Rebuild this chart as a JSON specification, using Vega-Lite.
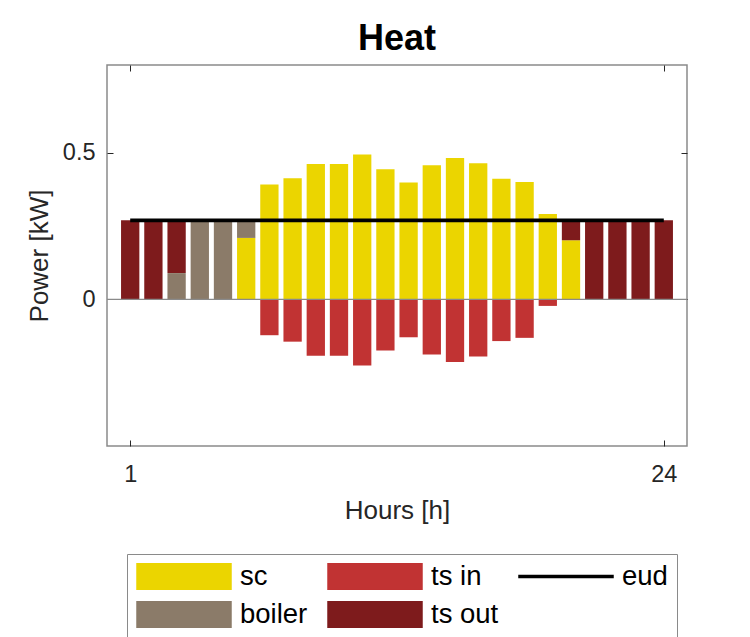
{
  "$schema": "https://vega.github.io/schema/vega-lite/v6.json",
  "width": 580,
  "height": 381,
  "autosize": {"type": "none"},
  "padding": {"left": 107, "top": 65, "right": 63, "bottom": 191},
  "config": {
    "font": "Liberation Sans",
    "view": {"stroke": "#8a8a8a", "strokeWidth": 1.5},
    "axis": {"grid": false, "domain": false, "tickColor": "#262626", "tickWidth": 1, "labelColor": "#262626", "titleColor": "#262626", "titleFontWeight": "normal"}
  },
  "title": {"text": "Heat", "fontSize": 36, "fontWeight": "bold", "color": "#000000", "anchor": "middle", "offset": -21, "baseline": "alphabetic"},
  "datasets": {
    "bars": [
      {"hour": 1, "series": "ts out", "kw": 0.27, "rank": 3},
      {"hour": 2, "series": "ts out", "kw": 0.27, "rank": 3},
      {"hour": 3, "series": "boiler", "kw": 0.09, "rank": 2},
      {"hour": 3, "series": "ts out", "kw": 0.18, "rank": 3},
      {"hour": 4, "series": "boiler", "kw": 0.27, "rank": 2},
      {"hour": 5, "series": "boiler", "kw": 0.27, "rank": 2},
      {"hour": 6, "series": "sc", "kw": 0.21, "rank": 1},
      {"hour": 6, "series": "boiler", "kw": 0.06, "rank": 2},
      {"hour": 7, "series": "sc", "kw": 0.392, "rank": 1},
      {"hour": 7, "series": "ts in", "kw": -0.122, "rank": 1},
      {"hour": 8, "series": "sc", "kw": 0.414, "rank": 1},
      {"hour": 8, "series": "ts in", "kw": -0.144, "rank": 1},
      {"hour": 9, "series": "sc", "kw": 0.462, "rank": 1},
      {"hour": 9, "series": "ts in", "kw": -0.192, "rank": 1},
      {"hour": 10, "series": "sc", "kw": 0.462, "rank": 1},
      {"hour": 10, "series": "ts in", "kw": -0.192, "rank": 1},
      {"hour": 11, "series": "sc", "kw": 0.495, "rank": 1},
      {"hour": 11, "series": "ts in", "kw": -0.225, "rank": 1},
      {"hour": 12, "series": "sc", "kw": 0.444, "rank": 1},
      {"hour": 12, "series": "ts in", "kw": -0.174, "rank": 1},
      {"hour": 13, "series": "sc", "kw": 0.399, "rank": 1},
      {"hour": 13, "series": "ts in", "kw": -0.129, "rank": 1},
      {"hour": 14, "series": "sc", "kw": 0.458, "rank": 1},
      {"hour": 14, "series": "ts in", "kw": -0.188, "rank": 1},
      {"hour": 15, "series": "sc", "kw": 0.483, "rank": 1},
      {"hour": 15, "series": "ts in", "kw": -0.213, "rank": 1},
      {"hour": 16, "series": "sc", "kw": 0.465, "rank": 1},
      {"hour": 16, "series": "ts in", "kw": -0.195, "rank": 1},
      {"hour": 17, "series": "sc", "kw": 0.412, "rank": 1},
      {"hour": 17, "series": "ts in", "kw": -0.142, "rank": 1},
      {"hour": 18, "series": "sc", "kw": 0.401, "rank": 1},
      {"hour": 18, "series": "ts in", "kw": -0.131, "rank": 1},
      {"hour": 19, "series": "sc", "kw": 0.292, "rank": 1},
      {"hour": 19, "series": "ts in", "kw": -0.022, "rank": 1},
      {"hour": 20, "series": "sc", "kw": 0.202, "rank": 1},
      {"hour": 20, "series": "ts out", "kw": 0.068, "rank": 3},
      {"hour": 21, "series": "ts out", "kw": 0.27, "rank": 3},
      {"hour": 22, "series": "ts out", "kw": 0.27, "rank": 3},
      {"hour": 23, "series": "ts out", "kw": 0.27, "rank": 3},
      {"hour": 24, "series": "ts out", "kw": 0.27, "rank": 3}
    ],
    "eud": [
      {"hour": 1, "series": "eud", "kw": 0.27},
      {"hour": 2, "series": "eud", "kw": 0.27},
      {"hour": 3, "series": "eud", "kw": 0.27},
      {"hour": 4, "series": "eud", "kw": 0.27},
      {"hour": 5, "series": "eud", "kw": 0.27},
      {"hour": 6, "series": "eud", "kw": 0.27},
      {"hour": 7, "series": "eud", "kw": 0.27},
      {"hour": 8, "series": "eud", "kw": 0.27},
      {"hour": 9, "series": "eud", "kw": 0.27},
      {"hour": 10, "series": "eud", "kw": 0.27},
      {"hour": 11, "series": "eud", "kw": 0.27},
      {"hour": 12, "series": "eud", "kw": 0.27},
      {"hour": 13, "series": "eud", "kw": 0.27},
      {"hour": 14, "series": "eud", "kw": 0.27},
      {"hour": 15, "series": "eud", "kw": 0.27},
      {"hour": 16, "series": "eud", "kw": 0.27},
      {"hour": 17, "series": "eud", "kw": 0.27},
      {"hour": 18, "series": "eud", "kw": 0.27},
      {"hour": 19, "series": "eud", "kw": 0.27},
      {"hour": 20, "series": "eud", "kw": 0.27},
      {"hour": 21, "series": "eud", "kw": 0.27},
      {"hour": 22, "series": "eud", "kw": 0.27},
      {"hour": 23, "series": "eud", "kw": 0.27},
      {"hour": 24, "series": "eud", "kw": 0.27}
    ],
    "zero": [{"level": 0}]
  },
  "resolve": {"axis": {"x": "independent", "y": "independent"}},
  "layer": [
    {
      "data": {"name": "bars"},
      "mark": {"type": "bar", "size": 18.3},
      "encoding": {
        "x": {
          "field": "hour", "type": "quantitative",
          "scale": {"domain": [0, 25], "nice": false, "zero": false, "padding": 0},
          "axis": {"orient": "bottom", "values": [1, 24], "title": "Hours [h]", "tickSize": -6, "labelFontSize": 23.5, "labelPadding": 22, "titleFontSize": 26, "titlePadding": 12, "labelFlush": false}
        },
        "y": {
          "field": "kw", "type": "quantitative", "stack": "zero",
          "scale": {"domain": [-0.5, 0.8], "nice": false},
          "axis": {"orient": "left", "values": [0, 0.5], "format": "~g", "title": "Power [kW]", "tickSize": -6, "labelFontSize": 23.5, "labelPadding": 18, "titleFontSize": 26, "titlePadding": 10}
        },
        "order": {"field": "rank", "type": "quantitative", "sort": "ascending"},
        "color": {
          "field": "series", "type": "nominal",
          "scale": {"domain": ["sc", "ts in", "eud", "boiler", "ts out"], "range": ["#EBD500", "#C13333", "#000000", "#8B7B69", "#7E1B1C"]},
          "legend": {
            "orient": "none", "legendX": 20, "legendY": 489,
            "direction": "horizontal", "columns": 3, "title": null,
            "symbolType": "M-1,-0.287H1V0.287H-1Z", "symbolSize": 8836, "clipHeight": 27,
            "rowPadding": 10, "columnPadding": 19, "labelFontSize": 27.5, "labelColor": "#000000", "labelOffset": 8,
            "padding": 9, "strokeColor": "#8a8a8a", "fillColor": "#ffffff",
            "encode": {"symbols": {"update": {
              "shape": {"signal": "datum.value === 'eud' ? 'M-1,-0.02H1V0.02H-1Z' : 'M-1,-0.287H1V0.287H-1Z'"},
              "fill": {"signal": "scale('color', datum.value)"},
              "stroke": {"value": "transparent"},
              "opacity": {"value": 1}
            }}}
          }
        }
      }
    },
    {
      "data": {"name": "zero"},
      "mark": {"type": "rule", "color": "#8a8a8a", "strokeWidth": 1.3},
      "encoding": {
        "y": {"field": "level", "type": "quantitative", "scale": {"domain": [-0.5, 0.8], "nice": false}, "axis": null}
      }
    },
    {
      "data": {"name": "eud"},
      "mark": {"type": "line", "strokeWidth": 3.8},
      "encoding": {
        "x": {
          "field": "hour", "type": "quantitative",
          "scale": {"domain": [0, 25], "nice": false, "zero": false, "padding": 0},
          "axis": {"orient": "top", "values": [1, 24], "labels": false, "title": null, "tickSize": -6}
        },
        "y": {
          "field": "kw", "type": "quantitative",
          "scale": {"domain": [-0.5, 0.8], "nice": false},
          "axis": {"orient": "right", "values": [0, 0.5], "labels": false, "title": null, "tickSize": -6}
        },
        "color": {
          "field": "series", "type": "nominal"
        }
      }
    }
  ]
}
